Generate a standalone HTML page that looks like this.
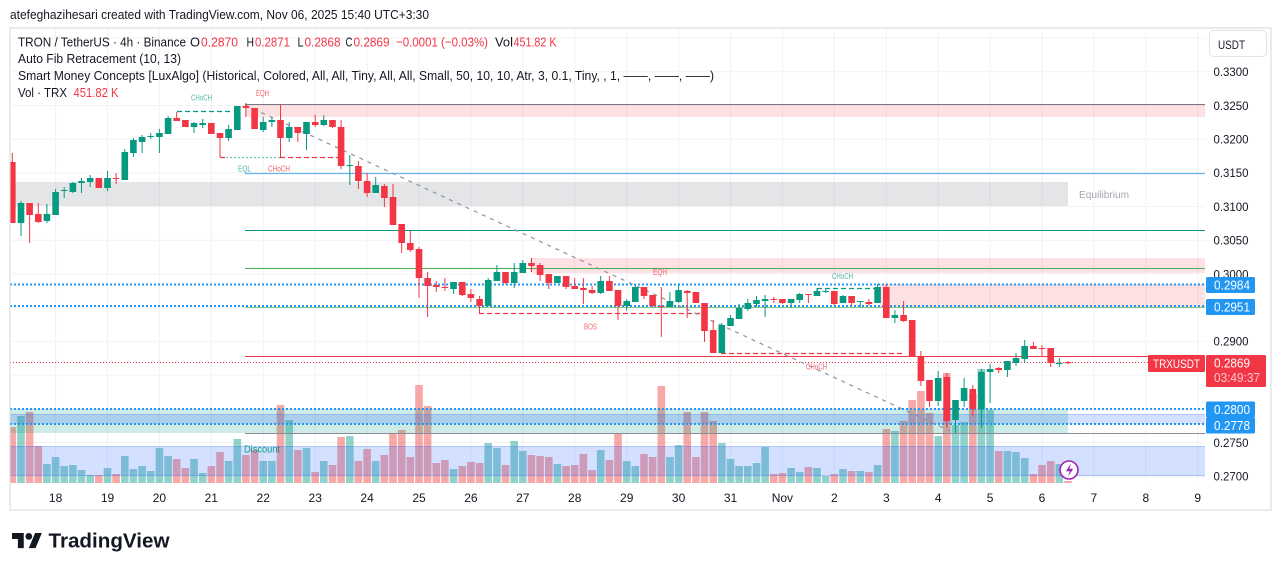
<!DOCTYPE html>
<html><head><meta charset="utf-8"><style>
html,body{margin:0;padding:0;background:#fff;}
svg{display:block;font-family:"Liberation Sans",Arial,sans-serif;}
</style></head><body>
<svg width="1281" height="571" viewBox="0 0 1281 571" xmlns="http://www.w3.org/2000/svg">
<defs><clipPath id="pc"><rect x="10.5" y="29" width="1195" height="454"/></clipPath></defs>
<rect width="1281" height="571" fill="#fff"/>
<text x="10" y="19" font-size="13" fill="#131722" textLength="419" lengthAdjust="spacingAndGlyphs">atefeghazihesari created with TradingView.com, Nov 06, 2025 15:40 UTC+3:30</text>
<rect x="10" y="28" width="1261" height="482" fill="none" stroke="#ebebeb" stroke-width="2"/>

<g clip-path="url(#pc)">
<path d="M10 38.1H1205M10 71.8H1205M10 105.5H1205M10 139.2H1205M10 172.9H1205M10 206.6H1205M10 240.3H1205M10 274H1205M10 307.7H1205M10 341.4H1205M10 375.1H1205M10 408.8H1205M10 442.5H1205M10 476.2H1205" stroke="#f1f2f5" stroke-width="1"/>
<path d="M55.6 29V483M107.5 29V483M159.4 29V483M211.3 29V483M263.2 29V483M315.2 29V483M367.1 29V483M419 29V483M470.9 29V483M522.8 29V483M574.7 29V483M626.7 29V483M678.6 29V483M730.5 29V483M782.4 29V483M834.3 29V483M886.3 29V483M938.2 29V483M990.1 29V483M1042 29V483M1093.9 29V483M1145.8 29V483M1197.7 29V483" stroke="#f1f2f5" stroke-width="1"/>

<path fill="rgba(239,83,80,0.5)" d="M8.5 427h7.6V483h-7.6zM25.8 412h7.6V483h-7.6zM34.5 446h7.6V483h-7.6zM95 475h7.6V483h-7.6zM112.3 474h7.6V483h-7.6zM172.9 459h7.6V483h-7.6zM181.6 468h7.6V483h-7.6zM207.5 466h7.6V483h-7.6zM216.2 452h7.6V483h-7.6zM242.1 455h7.6V483h-7.6zM250.8 450h7.6V483h-7.6zM276.7 405h7.6V483h-7.6zM294 450h7.6V483h-7.6zM311.4 472h7.6V483h-7.6zM328.7 465h7.6V483h-7.6zM337.3 437h7.6V483h-7.6zM354.6 461h7.6V483h-7.6zM363.3 449h7.6V483h-7.6zM380.6 455h7.6V483h-7.6zM389.2 433h7.6V483h-7.6zM397.9 430h7.6V483h-7.6zM406.5 457h7.6V483h-7.6zM415.2 385h7.6V483h-7.6zM423.8 406h7.6V483h-7.6zM432.5 463h7.6V483h-7.6zM441.1 460h7.6V483h-7.6zM458.5 466h7.6V483h-7.6zM467.1 462h7.6V483h-7.6zM475.8 463h7.6V483h-7.6zM501.7 465h7.6V483h-7.6zM527.7 455h7.6V483h-7.6zM536.3 456h7.6V483h-7.6zM545 457h7.6V483h-7.6zM562.3 466h7.6V483h-7.6zM570.9 465h7.6V483h-7.6zM579.6 454h7.6V483h-7.6zM588.3 470h7.6V483h-7.6zM605.6 460h7.6V483h-7.6zM614.2 434h7.6V483h-7.6zM640.2 454h7.6V483h-7.6zM648.8 457h7.6V483h-7.6zM657.5 386h7.6V483h-7.6zM683.4 412h7.6V483h-7.6zM692.1 457h7.6V483h-7.6zM700.7 412h7.6V483h-7.6zM709.4 421h7.6V483h-7.6zM770 474h7.6V483h-7.6zM778.6 473h7.6V483h-7.6zM804.6 467h7.6V483h-7.6zM830.5 474h7.6V483h-7.6zM847.8 471h7.6V483h-7.6zM865.1 472h7.6V483h-7.6zM882.5 429h7.6V483h-7.6zM899.8 421h7.6V483h-7.6zM908.4 400h7.6V483h-7.6zM917.1 391h7.6V483h-7.6zM925.7 413h7.6V483h-7.6zM943 373h7.6V483h-7.6zM969 394h7.6V483h-7.6zM994.9 451h7.6V483h-7.6zM1029.6 474h7.6V483h-7.6zM1038.2 465h7.6V483h-7.6zM1046.9 461h7.6V483h-7.6zM1064.2 481h7.6V483h-7.6z"/>
<path fill="rgba(38,166,154,0.5)" d="M17.2 416h7.6V483h-7.6zM43.1 464h7.6V483h-7.6zM51.8 457h7.6V483h-7.6zM60.4 466h7.6V483h-7.6zM69.1 465h7.6V483h-7.6zM77.7 470h7.6V483h-7.6zM86.4 475h7.6V483h-7.6zM103.7 468h7.6V483h-7.6zM121 456h7.6V483h-7.6zM129.6 469h7.6V483h-7.6zM138.3 466h7.6V483h-7.6zM146.9 471h7.6V483h-7.6zM155.6 448h7.6V483h-7.6zM164.3 456h7.6V483h-7.6zM190.2 459h7.6V483h-7.6zM198.9 473h7.6V483h-7.6zM224.8 461h7.6V483h-7.6zM233.5 439h7.6V483h-7.6zM259.4 461h7.6V483h-7.6zM268.1 461h7.6V483h-7.6zM285.4 420h7.6V483h-7.6zM302.7 448h7.6V483h-7.6zM320 461h7.6V483h-7.6zM346 436h7.6V483h-7.6zM371.9 461h7.6V483h-7.6zM449.8 469h7.6V483h-7.6zM484.4 443h7.6V483h-7.6zM493.1 448h7.6V483h-7.6zM510.4 441h7.6V483h-7.6zM519 451h7.6V483h-7.6zM553.6 464h7.6V483h-7.6zM596.9 450h7.6V483h-7.6zM622.9 461h7.6V483h-7.6zM631.5 466h7.6V483h-7.6zM666.1 457h7.6V483h-7.6zM674.8 445h7.6V483h-7.6zM718 443h7.6V483h-7.6zM726.7 459h7.6V483h-7.6zM735.3 466h7.6V483h-7.6zM744 466h7.6V483h-7.6zM752.7 463h7.6V483h-7.6zM761.3 447h7.6V483h-7.6zM787.3 468h7.6V483h-7.6zM795.9 472h7.6V483h-7.6zM813.2 468h7.6V483h-7.6zM821.9 476h7.6V483h-7.6zM839.2 469h7.6V483h-7.6zM856.5 471h7.6V483h-7.6zM873.8 465h7.6V483h-7.6zM891.1 431h7.6V483h-7.6zM934.4 436h7.6V483h-7.6zM951.7 425h7.6V483h-7.6zM960.3 422h7.6V483h-7.6zM977.6 369h7.6V483h-7.6zM986.3 410h7.6V483h-7.6zM1003.6 451h7.6V483h-7.6zM1012.2 452h7.6V483h-7.6zM1020.9 458h7.6V483h-7.6zM1055.5 464h7.6V483h-7.6z"/>

<rect x="245" y="104.5" width="960" height="12.5" fill="rgba(242,54,69,0.15)"/>
<rect x="10" y="182" width="1058" height="24" fill="rgba(120,123,134,0.2)"/>
<rect x="530" y="258" width="675" height="15" fill="rgba(242,54,69,0.15)"/>
<rect x="880" y="284" width="325" height="23" fill="rgba(242,54,69,0.15)"/>
<rect x="10" y="409" width="1058" height="24" fill="rgba(8,153,129,0.2)"/>
<rect x="10" y="414" width="1195" height="10" fill="rgba(41,98,255,0.2)"/>
<rect x="10" y="446" width="1195" height="30" fill="rgba(41,98,255,0.2)"/>
<path d="M10 414.5H1205M10 446.5H1205M10 475.5H1205" stroke="rgba(41,98,255,0.22)" stroke-width="1"/>

<path d="M245 104.5H1205" stroke="#787b86" stroke-width="1"/>
<path d="M245 173.5H1205" stroke="#64b5f6" stroke-width="1.2"/>
<path d="M245 230.5H1205" stroke="#089981" stroke-width="1"/>
<path d="M245 268.5H1205" stroke="#4caf50" stroke-width="1"/>
<path d="M245 307.5H1205" stroke="#81c784" stroke-width="1"/>
<path d="M245 356.5H1205" stroke="#f23645" stroke-width="1"/>
<path d="M245 433.5H1205" stroke="#8b8e9a" stroke-width="1"/>

<path d="M10 284.5H1205M10 306H1205M10 409H1205M10 424H1205" stroke="#2196f3" stroke-width="2" stroke-dasharray="2 2"/>
<path d="M10 362.5H1205" stroke="#f23645" stroke-width="1" stroke-dasharray="1 2"/>

<path d="M177 111.5H233" stroke="#089981" stroke-width="1.2" stroke-dasharray="5 3"/>
<path d="M220 157.5H226M280 157.5H343" stroke="#f23645" stroke-width="1.2" stroke-dasharray="5 3"/>
<path d="M226 157.5H280" stroke="#6cc9b6" stroke-width="1.2" stroke-dasharray="2 2"/>
<path d="M479 313.5H700" stroke="#f23645" stroke-width="1.2" stroke-dasharray="5 3"/>
<path d="M479.5 306V313.5" stroke="#f23645" stroke-width="1"/>
<path d="M721 353.5H903" stroke="#f23645" stroke-width="1.2" stroke-dasharray="5 3"/>
<path d="M817 288.5H877" stroke="#089981" stroke-width="1.2" stroke-dasharray="5 3"/>
<path d="M817.5 288V294" stroke="#089981" stroke-width="1"/>
<path d="M245 105L950 431" stroke="#8f929c" stroke-width="1.2" stroke-dasharray="4 5"/>

<path fill="#f23645" d="M11.8 153h1V223h-1zM9 162h6.6V223h-6.6zM29.1 203h1V243h-1zM26.3 203h6.6V215h-6.6zM37.8 203h1V223h-1zM35 214h6.6V222h-6.6zM98.3 178h1V188h-1zM95.5 178h6.6V188h-6.6zM115.6 173h1V184h-1zM112.8 178h6.6V179h-6.6zM176.2 112h1V121h-1zM173.4 118h6.6V121h-6.6zM184.9 120h1V127h-1zM182.1 120h6.6V127h-6.6zM210.8 123h1V134h-1zM208 123h6.6V134h-6.6zM219.5 133h1V157h-1zM216.7 133h6.6V138h-6.6zM245.4 103h1V117h-1zM242.6 106h6.6V108h-6.6zM254.1 108h1V129h-1zM251.3 108h6.6V129h-6.6zM280 104h1V157h-1zM277.2 120h6.6V138h-6.6zM297.3 127h1V142h-1zM294.5 127h6.6V133h-6.6zM314.7 115h1V127h-1zM311.9 122h6.6V125h-6.6zM332 120h1V128h-1zM329.2 120h6.6V127h-6.6zM340.6 120h1V169h-1zM337.8 127h6.6V166h-6.6zM357.9 161h1V189h-1zM355.1 166h6.6V181h-6.6zM366.6 173h1V197h-1zM363.8 181h6.6V193h-6.6zM383.9 184h1V207h-1zM381.1 186h6.6V198h-6.6zM392.5 184h1V225h-1zM389.7 197h6.6V225h-6.6zM401.2 224h1V253h-1zM398.4 224h6.6V243h-6.6zM409.8 231h1V252h-1zM407 243h6.6V250h-6.6zM418.5 247h1V298h-1zM415.7 249h6.6V278h-6.6zM427.1 272h1V317h-1zM424.3 278h6.6V286h-6.6zM435.8 281h1V292h-1zM433 285h6.6V287h-6.6zM444.4 278h1V291h-1zM441.6 287h6.6V288h-6.6zM461.8 282h1V296h-1zM459 282h6.6V295h-6.6zM470.4 289h1V302h-1zM467.6 294h6.6V298h-6.6zM479.1 296h1V306h-1zM476.3 299h6.6V306h-6.6zM505 272h1V284h-1zM502.2 272h6.6V283h-6.6zM531 258h1V272h-1zM528.2 263h6.6V266h-6.6zM539.6 263h1V281h-1zM536.8 265h6.6V275h-6.6zM548.3 274h1V289h-1zM545.5 274h6.6V283h-6.6zM565.6 276h1V289h-1zM562.8 276h6.6V287h-6.6zM574.2 278h1V289h-1zM571.4 286h6.6V289h-6.6zM582.9 278h1V304h-1zM580.1 288h6.6V290h-6.6zM591.6 286h1V294h-1zM588.8 290h6.6V293h-6.6zM608.9 276h1V291h-1zM606.1 281h6.6V291h-6.6zM617.5 290h1V320h-1zM614.7 290h6.6V306h-6.6zM643.5 287h1V299h-1zM640.7 287h6.6V296h-6.6zM652.1 295h1V307h-1zM649.3 295h6.6V306h-6.6zM660.8 287h1V337h-1zM658 306h6.6V307h-6.6zM686.7 290h1V318h-1zM683.9 291h6.6V293h-6.6zM695.4 292h1V303h-1zM692.6 292h6.6V303h-6.6zM704 303h1V342h-1zM701.2 303h6.6V331h-6.6zM712.7 320h1V353h-1zM709.9 330h6.6V353h-6.6zM773.3 297h1V303h-1zM770.5 299h6.6V300h-6.6zM781.9 299h1V304h-1zM779.1 299h6.6V303h-6.6zM807.9 294h1V303h-1zM805.1 294h6.6V295h-6.6zM833.8 291h1V305h-1zM831 291h6.6V304h-6.6zM851.1 296h1V306h-1zM848.3 296h6.6V303h-6.6zM868.4 299h1V306h-1zM865.6 302h6.6V304h-6.6zM885.8 284h1V318h-1zM883 287h6.6V318h-6.6zM903.1 301h1V322h-1zM900.3 315h6.6V321h-6.6zM911.7 320h1V356h-1zM908.9 320h6.6V356h-6.6zM920.4 351h1V386h-1zM917.6 357h6.6V381h-6.6zM929 380h1V407h-1zM926.2 380h6.6V401h-6.6zM946.3 373h1V428h-1zM943.5 377h6.6V421h-6.6zM972.3 385h1V416h-1zM969.5 389h6.6V409h-6.6zM998.2 367h1V373h-1zM995.4 368h6.6V370h-6.6zM1032.9 342h1V349h-1zM1030.1 346h6.6V349h-6.6zM1041.5 345h1V356h-1zM1038.7 348h6.6V349h-6.6zM1050.2 348h1V367h-1zM1047.4 348h6.6V363h-6.6zM1067.5 361h1V364h-1zM1064.7 362h6.6V363.2h-6.6z"/>
<path fill="#089981" d="M20.5 201h1V236h-1zM17.7 203h6.6V223h-6.6zM46.4 204h1V223h-1zM43.6 214h6.6V221h-6.6zM55.1 189h1V215h-1zM52.3 192h6.6V215h-6.6zM63.7 187h1V198h-1zM60.9 190h6.6V191h-6.6zM72.4 182h1V193h-1zM69.6 183h6.6V192h-6.6zM81 178h1V193h-1zM78.2 181h6.6V183h-6.6zM89.7 175h1V187h-1zM86.9 178h6.6V182h-6.6zM107 171h1V191h-1zM104.2 178h6.6V188h-6.6zM124.3 149h1V180h-1zM121.5 152h6.6V180h-6.6zM132.9 138h1V157h-1zM130.1 140h6.6V153h-6.6zM141.6 135h1V153h-1zM138.8 137h6.6V142h-6.6zM150.2 133h1V139h-1zM147.4 136h6.6V137h-6.6zM158.9 129h1V153h-1zM156.1 133h6.6V137h-6.6zM167.6 116h1V134h-1zM164.8 118h6.6V134h-6.6zM193.5 122h1V133h-1zM190.7 123h6.6V127h-6.6zM202.2 119h1V128h-1zM199.4 123h6.6V125h-6.6zM228.1 125h1V141h-1zM225.3 129h6.6V138h-6.6zM236.8 106h1V130h-1zM234 106h6.6V130h-6.6zM262.7 117h1V132h-1zM259.9 122h6.6V130h-6.6zM271.4 117h1V127h-1zM268.6 120h6.6V122h-6.6zM288.7 122h1V142h-1zM285.9 127h6.6V138h-6.6zM306 122h1V150h-1zM303.2 122h6.6V134h-6.6zM323.3 115h1V126h-1zM320.5 120h6.6V125h-6.6zM349.3 155h1V185h-1zM346.5 165h6.6V166h-6.6zM375.2 177h1V193h-1zM372.4 185h6.6V193h-6.6zM453.1 282h1V294h-1zM450.3 282h6.6V289h-6.6zM487.7 278h1V306h-1zM484.9 280h6.6V306h-6.6zM496.4 265h1V281h-1zM493.6 272h6.6V281h-6.6zM513.7 263h1V288h-1zM510.9 272h6.6V283h-6.6zM522.3 260h1V273h-1zM519.5 263h6.6V273h-6.6zM556.9 276h1V283h-1zM554.1 276h6.6V283h-6.6zM600.2 276h1V294h-1zM597.4 281h6.6V293h-6.6zM626.2 299h1V311h-1zM623.4 301h6.6V306h-6.6zM634.8 285h1V302h-1zM632 287h6.6V302h-6.6zM669.4 292h1V307h-1zM666.6 301h6.6V307h-6.6zM678.1 284h1V303h-1zM675.3 290h6.6V302h-6.6zM721.3 323h1V353h-1zM718.5 325h6.6V353h-6.6zM730 315h1V326h-1zM727.2 318h6.6V326h-6.6zM738.6 304h1V319h-1zM735.8 308h6.6V319h-6.6zM747.3 299h1V311h-1zM744.5 303h6.6V309h-6.6zM756 296h1V307h-1zM753.2 300h6.6V304h-6.6zM764.6 295h1V317h-1zM761.8 299h6.6V301h-6.6zM790.6 299h1V308h-1zM787.8 299h6.6V303h-6.6zM799.2 293h1V303h-1zM796.4 294h6.6V300h-6.6zM816.5 288h1V296h-1zM813.7 291h6.6V296h-6.6zM825.2 289h1V293h-1zM822.4 291h6.6V292h-6.6zM842.5 295h1V303h-1zM839.7 296h6.6V303h-6.6zM859.8 301h1V307h-1zM857 301h6.6V302h-6.6zM877.1 284h1V303h-1zM874.3 287h6.6V303h-6.6zM894.4 310h1V323h-1zM891.6 315h6.6V318h-6.6zM937.7 371h1V406h-1zM934.9 378h6.6V401h-6.6zM955 400h1V433h-1zM952.2 400h6.6V420h-6.6zM963.6 378h1V407h-1zM960.8 388h6.6V401h-6.6zM980.9 369h1V428h-1zM978.1 372h6.6V409h-6.6zM989.6 364h1V403h-1zM986.8 369h6.6V372h-6.6zM1006.9 361h1V377h-1zM1004.1 361h6.6V370h-6.6zM1015.5 353h1V366h-1zM1012.7 358h6.6V363h-6.6zM1024.2 340h1V363h-1zM1021.4 346h6.6V359h-6.6zM1058.8 358h1V367h-1zM1056 363h6.6V364h-6.6z"/>

<g font-size="8.5">
<text x="191" y="100.5" fill="#4db6a2" textLength="21" lengthAdjust="spacingAndGlyphs">CHoCH</text>
<text x="256" y="96" fill="#f0606b" textLength="13" lengthAdjust="spacingAndGlyphs">EQH</text>
<text x="238" y="171.5" fill="#4db6a2" textLength="13" lengthAdjust="spacingAndGlyphs">EQL</text>
<text x="268" y="171.5" fill="#f0606b" textLength="22" lengthAdjust="spacingAndGlyphs">CHoCH</text>
<text x="653" y="275" fill="#f0606b" textLength="14" lengthAdjust="spacingAndGlyphs">EQH</text>
<text x="832" y="279" fill="#4db6a2" textLength="21" lengthAdjust="spacingAndGlyphs">CHoCH</text>
<text x="584" y="329.5" fill="#f0606b" textLength="13" lengthAdjust="spacingAndGlyphs">BOS</text>
<text x="806" y="369.5" fill="#f0606b" textLength="21" lengthAdjust="spacingAndGlyphs">CHoCH</text>
</g>
<text x="244" y="452.5" font-size="10" fill="#089981" textLength="36" lengthAdjust="spacingAndGlyphs">Discount</text>
<text x="1079" y="198" font-size="10" fill="#a3a6af" textLength="50" lengthAdjust="spacingAndGlyphs">Equilibrium</text>

<circle cx="1069" cy="470" r="9" fill="#fff" stroke="#9c27b0" stroke-width="1.6"/>
<path d="M1071 463.5l-5.2 7.7h3.9l-1.6 5.3 5.2-7.7h-3.9z" fill="#9c27b0"/>
</g>

<g font-size="13" fill="#131722">
<text x="18" y="46.5" textLength="168" lengthAdjust="spacingAndGlyphs">TRON / TetherUS · 4h · Binance</text>
<text x="190" y="46.5" textLength="10" lengthAdjust="spacingAndGlyphs">O</text>
<text x="201" y="46.5" fill="#f23645" textLength="37" lengthAdjust="spacingAndGlyphs">0.2870</text>
<text x="246.5" y="46.5" textLength="7.5" lengthAdjust="spacingAndGlyphs">H</text>
<text x="255" y="46.5" fill="#f23645" textLength="35" lengthAdjust="spacingAndGlyphs">0.2871</text>
<text x="297.5" y="46.5" textLength="6" lengthAdjust="spacingAndGlyphs">L</text>
<text x="304.5" y="46.5" fill="#f23645" textLength="36" lengthAdjust="spacingAndGlyphs">0.2868</text>
<text x="345.5" y="46.5" textLength="7" lengthAdjust="spacingAndGlyphs">C</text>
<text x="353.5" y="46.5" fill="#f23645" textLength="36" lengthAdjust="spacingAndGlyphs">0.2869</text>
<text x="396" y="46.5" fill="#f23645" textLength="92" lengthAdjust="spacingAndGlyphs">−0.0001 (−0.03%)</text>
<text x="495" y="46.5" textLength="18" lengthAdjust="spacingAndGlyphs">Vol</text>
<text x="513.5" y="46.5" fill="#f23645" textLength="43" lengthAdjust="spacingAndGlyphs">451.82 K</text>
<text x="18" y="63" textLength="163" lengthAdjust="spacingAndGlyphs">Auto Fib Retracement (10, 13)</text>
<text x="18" y="80" textLength="696" lengthAdjust="spacingAndGlyphs">Smart Money Concepts [LuxAlgo] (Historical, Colored, All, All, Tiny, All, All, Small, 50, 10, 10, Atr, 3, 0.1, Tiny, , 1, ——, ——, ——)</text>
<text x="18" y="97" textLength="49" lengthAdjust="spacingAndGlyphs">Vol · TRX</text>
<text x="73.5" y="97" fill="#f23645" textLength="45" lengthAdjust="spacingAndGlyphs">451.82 K</text>
</g>

<rect x="1209.5" y="30.5" width="57" height="26" rx="4" fill="#fff" stroke="#e0e3eb"/>
<text x="1218" y="49" font-size="12" fill="#131722" textLength="27" lengthAdjust="spacingAndGlyphs">USDT</text>
<g font-size="12" fill="#131722">
<text x="1213.5" y="76.1" textLength="35" lengthAdjust="spacingAndGlyphs">0.3300</text>
<text x="1213.5" y="109.8" textLength="35" lengthAdjust="spacingAndGlyphs">0.3250</text>
<text x="1213.5" y="143.5" textLength="35" lengthAdjust="spacingAndGlyphs">0.3200</text>
<text x="1213.5" y="177.2" textLength="35" lengthAdjust="spacingAndGlyphs">0.3150</text>
<text x="1213.5" y="210.9" textLength="35" lengthAdjust="spacingAndGlyphs">0.3100</text>
<text x="1213.5" y="244.6" textLength="35" lengthAdjust="spacingAndGlyphs">0.3050</text>
<text x="1213.5" y="278.3" textLength="35" lengthAdjust="spacingAndGlyphs">0.3000</text>
<text x="1213.5" y="345.7" textLength="35" lengthAdjust="spacingAndGlyphs">0.2900</text>
<text x="1213.5" y="446.8" textLength="35" lengthAdjust="spacingAndGlyphs">0.2750</text>
<text x="1213.5" y="480.5" textLength="35" lengthAdjust="spacingAndGlyphs">0.2700</text>
</g>
<g font-size="12.5" fill="#fff">
<rect x="1206" y="277" width="49" height="16" rx="1.5" fill="#2196f3"/>
<text x="1214" y="289.5" textLength="36" lengthAdjust="spacingAndGlyphs">0.2984</text>
<rect x="1206" y="299" width="49" height="16" rx="1.5" fill="#2196f3"/>
<text x="1214" y="311.5" textLength="36" lengthAdjust="spacingAndGlyphs">0.2951</text>
<rect x="1206" y="401.5" width="49" height="16" rx="1.5" fill="#2196f3"/>
<text x="1214" y="414" textLength="36" lengthAdjust="spacingAndGlyphs">0.2800</text>
<rect x="1206" y="417.5" width="49" height="16" rx="1.5" fill="#2196f3"/>
<text x="1214" y="430" textLength="36" lengthAdjust="spacingAndGlyphs">0.2778</text>
<rect x="1148" y="355" width="57" height="17" rx="1.5" fill="#f23645"/>
<text x="1153" y="367.8" font-size="12" textLength="47" lengthAdjust="spacingAndGlyphs">TRXUSDT</text>
<rect x="1206" y="355" width="60" height="32" rx="1.5" fill="#f23645"/>
<text x="1214" y="367.5" textLength="36" lengthAdjust="spacingAndGlyphs">0.2869</text>
<text x="1214" y="382" fill="#fbc8cc" textLength="46" lengthAdjust="spacingAndGlyphs">03:49:37</text>
</g>

<g font-size="12" fill="#131722" text-anchor="middle">
<text x="55.6" y="502">18</text><text x="107.5" y="502">19</text><text x="159.4" y="502">20</text><text x="211.3" y="502">21</text><text x="263.2" y="502">22</text><text x="315.2" y="502">23</text><text x="367.1" y="502">24</text><text x="419" y="502">25</text><text x="470.9" y="502">26</text><text x="522.8" y="502">27</text><text x="574.7" y="502">28</text><text x="626.7" y="502">29</text><text x="678.6" y="502">30</text><text x="730.5" y="502">31</text><text x="782.4" y="502">Nov</text><text x="834.3" y="502">2</text><text x="886.3" y="502">3</text><text x="938.2" y="502">4</text><text x="990.1" y="502">5</text><text x="1042" y="502">6</text><text x="1093.9" y="502">7</text><text x="1145.8" y="502">8</text><text x="1197.7" y="502">9</text>
</g>

<g transform="translate(12,529.7) scale(0.84)" fill="#131722">
<path d="M14 22H7V11H0V4h14v18z"/><circle cx="20" cy="8" r="4"/><path d="M28 22h-8l7.5-18h8L28 22z"/>
</g>
<text x="48.5" y="547.5" font-size="20" font-weight="bold" fill="#131722" textLength="121" lengthAdjust="spacingAndGlyphs">TradingView</text>
</svg>
</body></html>
